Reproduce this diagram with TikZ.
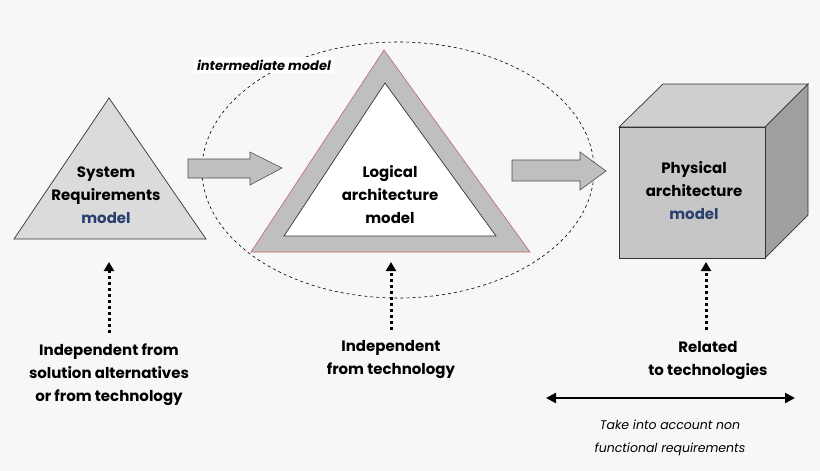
\documentclass[tikz,border=0pt]{standalone}
\usepackage{fontspec}
\setmainfont{Poppins}
\usetikzlibrary{arrows.meta}
\definecolor{bg}{HTML}{F7F7F7}
\definecolor{navy}{HTML}{2A3F6E}
\begin{document}
\begin{tikzpicture}[x=1pt,y=-1pt,
  lbl/.style={align=center,font=\fontsize{15}{23}\selectfont\bfseries},
  blockarrow/.style={fill=gray!50,draw=black!70,line width=0.6pt},
  dots/.style={line width=3pt,dash pattern=on 3pt off 3pt,-{Triangle[length=9pt,width=10pt]}}]
\fill[bg] (0,0) rectangle (820,471);
\useasboundingbox (0,0) rectangle (820,471);
% ellipse
\draw[dashed,line width=0.6pt] (398,170) ellipse [x radius=196, y radius=128];
\node[fill=white,inner sep=3pt,font=\fontsize{13}{15}\selectfont\bfseries\itshape] (im) at (264,65) {intermediate model};
% left triangle
\draw[fill=gray!28,draw=black!80,line width=0.7pt] (109,98) -- (206,239) -- (14,239) -- cycle;
\node[lbl] (sr) at (106,195) {System\\Requirements\\\textcolor{navy}{model}};
% arrow 1
\draw[blockarrow] (188,159) -- (250,159) -- (250,152) -- (282,168) -- (250,185) -- (250,178) -- (188,178) -- cycle;
% logical triangle
\draw[fill=gray!50,draw=red!60!black!60,line width=0.6pt] (384,50) -- (530,252) -- (251,252) -- cycle;
\draw[fill=white,draw=black!80,line width=0.7pt] (385,83) -- (496,236) -- (284,236) -- cycle;
\node[lbl] (la) at (390,195) {Logical\\architecture\\model};
% arrow 2
\draw[blockarrow] (512,160) -- (580,160) -- (580,152) -- (606,171) -- (580,190) -- (580,181) -- (512,181) -- cycle;
% cube
\draw[fill=gray!38,draw=black!80,line width=0.7pt] (619,127) -- (663,84) -- (808,84) -- (765,127) -- cycle;
\draw[fill=gray!75,draw=black!80,line width=0.7pt] (765,127) -- (808,84) -- (808,215) -- (765,258) -- cycle;
\draw[fill=gray!45,draw=black!80,line width=0.7pt] (619,127) rectangle (765,258);
\node[lbl] (pa) at (694,191) {Physical\\architecture\\\textcolor{navy}{model}};
% labels below
\node[lbl] (t1) at (109,375) {Independent from\\solution alternatives\\or from technology};
\node[lbl] (t2) at (391,360) {Independent\\from technology};
\node[lbl] (t3) at (708,361) {Related\\to technologies};
\coordinate (a1) at (109,262); \coordinate (a2) at (391,262); \coordinate (a3) at (706,262);
\draw[dots] (109,333) -- (a1);
\draw[dots] (391,330) -- (a2);
\draw[dots] (706,330) -- (a3);
% double arrow
\coordinate (dl) at (546,398); \coordinate (dr) at (795,398);
\draw[line width=2.2pt,{Triangle[length=10pt,width=10pt]}-{Triangle[length=10pt,width=10pt]}] (dl) -- (dr);
\node[align=center,font=\fontsize{12.5}{23}\selectfont\itshape] (nf) at (670,438) {Take into account non\\functional requirements};
\end{tikzpicture}
\end{document}
